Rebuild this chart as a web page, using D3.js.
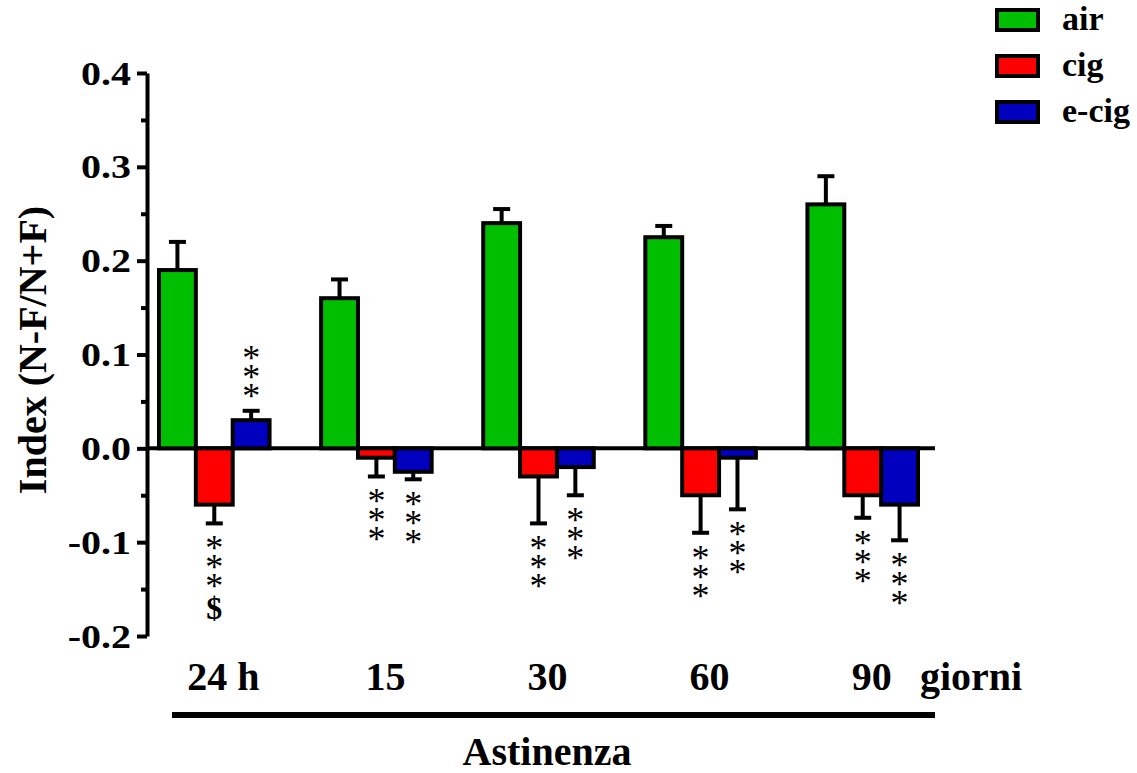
<!DOCTYPE html>
<html>
<head>
<meta charset="utf-8">
<script src="https://cdn.jsdelivr.net/npm/d3@7"></script>
<style>
  html, body { margin: 0; padding: 0; background: #fff; }
  svg { display: block; }
</style>
</head>
<body>
<script>
// chart values
const groups = ["24 h", "15", "30", "60", "90"];
const seriesNames = ["air", "cig", "e-cig"];
const seriesColors = ["rgb(0,190,0)", "rgb(255,0,0)", "rgb(0,0,190)"];

const airValues = [0.19, 0.16, 0.24, 0.225, 0.26];
const airErrors = [0.03, 0.02, 0.015, 0.012, 0.03];
const cigValues = [-0.06, -0.01, -0.03, -0.05, -0.05];
const cigErrors = [0.02, 0.02, 0.05, 0.04, 0.024];
const ecigValues = [0.03, -0.025, -0.02, -0.01, -0.06];
const ecigErrors = [0.01, 0.008, 0.03, 0.055, 0.038];

// significance marks printed next to the error bars
const airMarks = ["", "", "", "", ""];
const cigMarks = ["***$", "***", "***", "***", "***"];
const ecigMarks = ["***", "***", "***", "***", "***"];

const yTickValues = [-0.2, -0.1, 0.0, 0.1, 0.2, 0.3, 0.4];
const yMinorTicks = [-0.15, -0.05, 0.05, 0.15, 0.25, 0.35];

const font = "'Liberation Serif', 'Times New Roman', serif";
const width = 1137;
const height = 773;

const svg = d3
  .select("body")
  .append("svg")
  .attr("width", width)
  .attr("height", height)
  .attr("font-family", font)
  .attr("font-weight", "bold");

const yScale = d3.scaleLinear().domain([-0.2, 0.4]).range([636, 73]);

const xScale = d3
  .scaleBand()
  .domain(groups)
  .range([159, 918])
  .paddingInner(0.318)
  .paddingOuter(0);

const subScale = d3
  .scaleBand()
  .domain(seriesNames)
  .range([0, xScale.bandwidth()]);

const series = [
  { name: "air", values: airValues, errors: airErrors, marks: airMarks },
  { name: "cig", values: cigValues, errors: cigErrors, marks: cigMarks },
  { name: "e-cig", values: ecigValues, errors: ecigErrors, marks: ecigMarks },
];

const colorScale = d3.scaleOrdinal().domain(seriesNames).range(seriesColors);

// flat list of bars
const bars = [];
series.forEach((s) => {
  groups.forEach((g, i) => {
    bars.push({
      group: g,
      series: s.name,
      value: s.values[i],
      error: s.errors[i],
      mark: s.marks[i],
    });
  });
});

// zero line
svg
  .append("line")
  .attr("x1", 147)
  .attr("x2", 935)
  .attr("y1", yScale(0))
  .attr("y2", yScale(0))
  .attr("stroke", "#000")
  .attr("stroke-width", 4);

const barX = (d) => xScale(d.group) + subScale(d.series);
const bw = subScale.bandwidth();

// error bars (one sided, away from zero)
const errEnd = (d) => (d.value >= 0 ? d.value + d.error : d.value - d.error);

const errGroup = svg.append("g");
errGroup
  .selectAll("line.stem")
  .data(bars)
  .enter()
  .append("line")
  .attr("class", "stem")
  .attr("x1", (d) => barX(d) + bw / 2)
  .attr("x2", (d) => barX(d) + bw / 2)
  .attr("y1", (d) => yScale(d.value))
  .attr("y2", (d) => yScale(errEnd(d)))
  .attr("stroke", "#000")
  .attr("stroke-width", 4);

errGroup
  .selectAll("line.cap")
  .data(bars)
  .enter()
  .append("line")
  .attr("class", "cap")
  .attr("x1", (d) => barX(d) + bw / 2 - 8.5)
  .attr("x2", (d) => barX(d) + bw / 2 + 8.5)
  .attr("y1", (d) => yScale(errEnd(d)))
  .attr("y2", (d) => yScale(errEnd(d)))
  .attr("stroke", "#000")
  .attr("stroke-width", 4);

// bars
svg
  .append("g")
  .selectAll("rect")
  .data(bars)
  .enter()
  .append("rect")
  .attr("x", (d) => barX(d))
  .attr("width", bw)
  .attr("y", (d) => yScale(Math.max(0, d.value)))
  .attr("height", (d) => Math.abs(yScale(d.value) - yScale(0)))
  .attr("fill", (d) => colorScale(d.series))
  .attr("stroke", "#000")
  .attr("stroke-width", 4);

// significance marks, stacked vertically in one text per bar
const markGroup = svg.append("g").attr("fill", "#000");
bars
  .filter((d) => d.mark)
  .forEach((d) => {
    const cx = barX(d) + bw / 2;
    const endY = yScale(errEnd(d));
    const dir = d.value >= 0 ? -1 : 1;
    const txt = markGroup
      .append("text")
      .attr("text-anchor", "middle")
      .attr("font-size", 36)
      .attr("font-weight", "normal");
    d.mark.split("").forEach((c, k) => {
      let cy = endY + dir * (20 + k * 19);
      let base = cy + 17;
      if (c === "$") {
        cy = endY + dir * (20 + (k - 1) * 19 + 28);
        base = cy + 10;
      }
      txt
        .append("tspan")
        .attr("x", cx)
        .attr("y", base)
        .attr("font-size", c === "$" ? 32 : 36)
        .attr("font-weight", c === "$" ? "bold" : "normal")
        .text(c);
    });
  });

// y axis
const yAxis = d3
  .axisLeft(yScale)
  .tickValues(yTickValues)
  .tickSize(10)
  .tickSizeOuter(0)
  .tickPadding(6)
  .tickFormat((d) => d.toFixed(1));

const yAxisG = svg
  .append("g")
  .attr("class", "axis y-axis")
  .attr("transform", "translate(147 0)")
  .call(yAxis);

yAxisG.select(".domain").attr("stroke-width", 4);
yAxisG.selectAll(".tick line").attr("stroke-width", 4);
yAxisG
  .selectAll(".tick text")
  .attr("font-family", font)
  .attr("font-weight", "bold")
  .attr("font-size", 40)
  .attr("fill", "#000")
  .attr("dy", "0.34em")
  .attr("transform", "scale(1 0.82)");

const yMinorAxis = d3
  .axisLeft(yScale)
  .tickValues(yMinorTicks)
  .tickSize(6)
  .tickSizeOuter(0)
  .tickFormat("");

const yMinorG = svg
  .append("g")
  .attr("transform", "translate(147 0)")
  .call(yMinorAxis);
yMinorG.select(".domain").remove();
yMinorG.selectAll(".tick line").attr("stroke-width", 4);

// y title
svg
  .append("text")
  .attr("transform", "translate(46 350) rotate(-90)")
  .attr("text-anchor", "middle")
  .attr("font-size", 40)
  .text("Index (N-F/N+F)");

// x axis labels
const xAxis = d3.axisBottom(xScale).tickSize(0).tickPadding(0);
const xAxisG = svg
  .append("g")
  .attr("class", "axis x-axis")
  .attr("transform", "translate(0 662)")
  .call(xAxis);
xAxisG.select(".domain").remove();
xAxisG
  .selectAll(".tick text")
  .attr("font-family", font)
  .attr("font-weight", "bold")
  .attr("font-size", 40)
  .attr("fill", "#000")
  .attr("dx", 9);

svg
  .append("text")
  .attr("x", 920)
  .attr("y", 690)
  .attr("font-size", 40)
  .text("giorni");

// abstinence bracket
svg
  .append("line")
  .attr("x1", 172)
  .attr("x2", 935)
  .attr("y1", 715)
  .attr("y2", 715)
  .attr("stroke", "#000")
  .attr("stroke-width", 6);

svg
  .append("text")
  .attr("x", 547)
  .attr("y", 765)
  .attr("text-anchor", "middle")
  .attr("font-size", 40)
  .text("Astinenza");

// legend
const legend = svg
  .append("g")
  .selectAll("g")
  .data(seriesNames)
  .enter()
  .append("g")
  .attr("transform", (d, i) => `translate(997 ${10 + i * 46})`);

legend
  .append("rect")
  .attr("width", 41)
  .attr("height", 20)
  .attr("fill", (d) => colorScale(d))
  .attr("stroke", "#000")
  .attr("stroke-width", 4);

legend
  .append("text")
  .attr("x", 65)
  .attr("y", 20)
  .attr("font-size", 34)
  .text((d) => d);
</script>
</body>
</html>
